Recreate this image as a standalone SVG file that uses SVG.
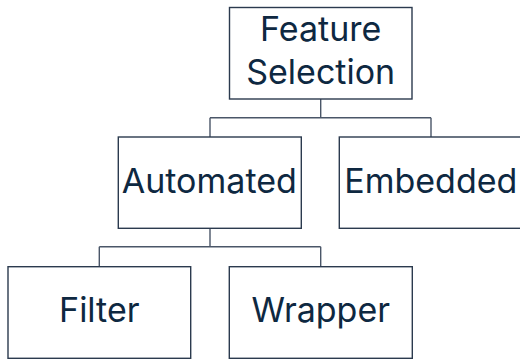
<svg xmlns="http://www.w3.org/2000/svg" width="520" height="362" viewBox="0 0 520 362">
  <style>
    .box { fill: #ffffff; stroke: #2b3a4e; stroke-width: 1.4; }
    .label { font-family: Inter, "Noto Sans", sans-serif; font-size: 34px; font-weight: 400; fill: #0e2841; text-anchor: middle; }
    .link { fill: none; stroke: #4a5668; stroke-width: 1.4; }
  </style>
  <rect width="520" height="362" fill="#ffffff"/>

  <g id="connectors">
    <path class="link" d="M320.7 99 V117.7 M210 117.7 H431 M210 117.7 V137 M431 117.7 V137"/>
    <path class="link" d="M210 228.3 V246.7 M99.3 246.7 H320.7 M99.3 246.7 V266.7 M320.7 246.7 V266.7"/>
  </g>

  <g id="feature-selection">
    <rect class="box" x="229.5" y="7.5" width="182.5" height="91.5"/>
    <text class="label" x="320.7" y="40.5">Feature</text>
    <text class="label" x="320.7" y="83.5">Selection</text>
  </g>

  <g id="automated">
    <rect class="box" x="118.3" y="137" width="183" height="91.3"/>
    <text class="label" x="209.3" y="193">Automated</text>
  </g>

  <g id="embedded">
    <rect class="box" x="339.3" y="137" width="183" height="91.3"/>
    <text class="label" x="430.8" y="193">Embedded</text>
  </g>

  <g id="filter">
    <rect class="box" x="8" y="266.7" width="182.7" height="91.6"/>
    <text class="label" x="99.3" y="322">Filter</text>
  </g>

  <g id="wrapper">
    <rect class="box" x="229.3" y="266.7" width="183" height="91.6"/>
    <text class="label" x="320.8" y="322">Wrapper</text>
  </g>
</svg>
